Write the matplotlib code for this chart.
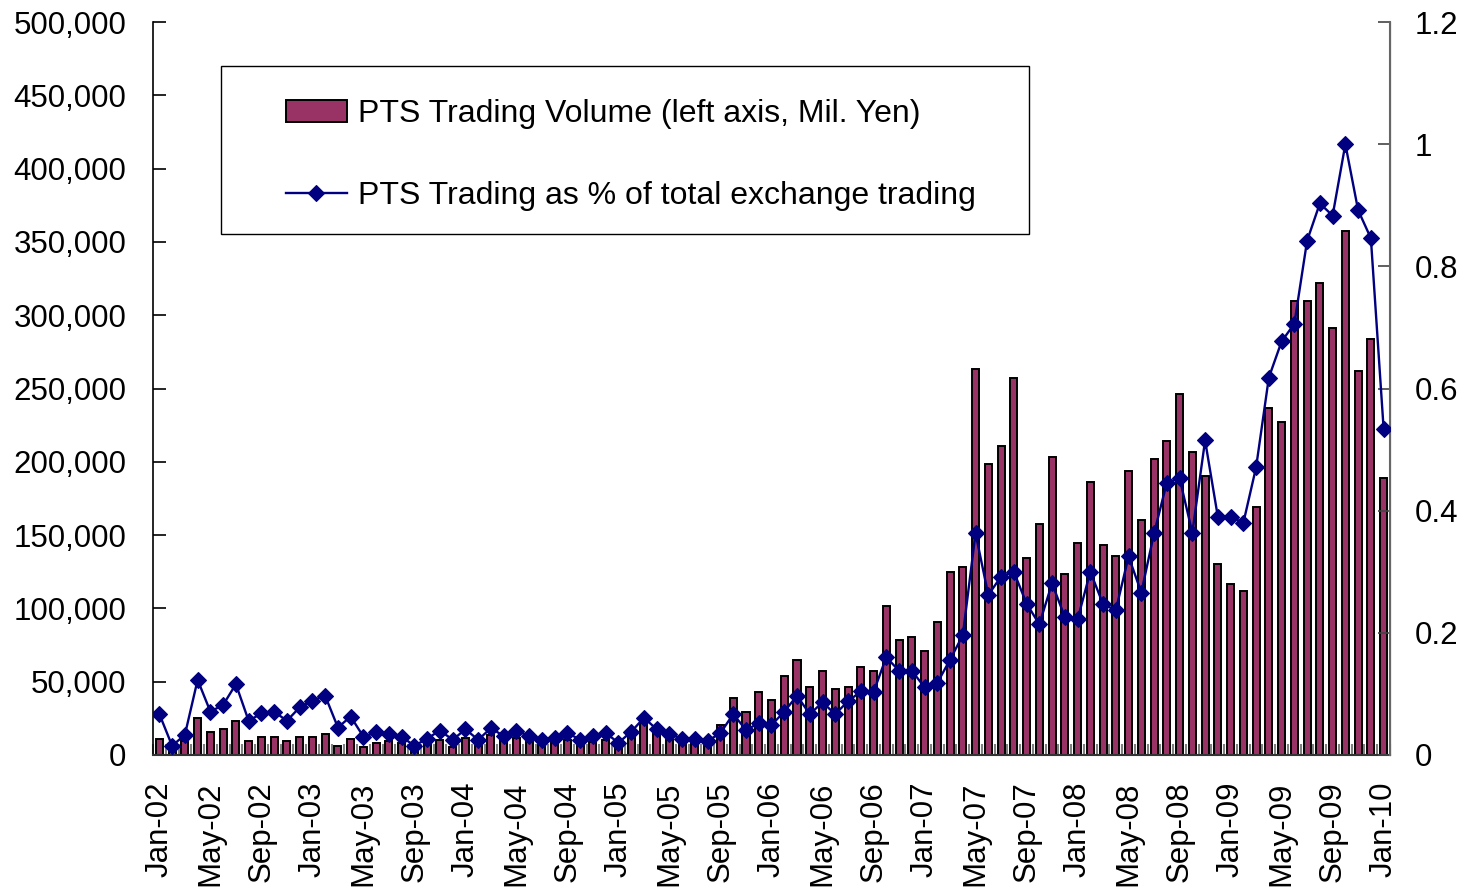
import numpy as np
import matplotlib
matplotlib.use("Agg")
import matplotlib.pyplot as plt
from matplotlib.patches import Rectangle
from matplotlib.ticker import FuncFormatter, FixedLocator

plt.rcParams['font.family'] = ['Liberation Sans', 'DejaVu Sans']

# ---- data ----
months = ["Jan", "Feb", "Mar", "Apr", "May", "Jun", "Jul", "Aug", "Sep", "Oct", "Nov", "Dec"]
categories = [f"{months[i % 12]}-{(2 + i // 12):02d}" for i in range(97)]

volume = [11000, 6000, 9800, 25000, 15900, 17500, 23000, 9800, 12500, 12500, 9800, 12500,
          12500, 14100, 6400, 11100, 5200, 8000, 9800, 8000, 5000, 8000, 10200, 5200,
          11400, 6000, 13600, 10200, 11800, 9100, 6800, 9100, 10200, 6800, 9100, 10200,
          4500, 12500, 21600, 14800, 10200, 8000, 8000, 6000, 20500, 39000, 29500, 43200,
          37500, 54100, 64800, 46600, 57300, 45000, 46600, 60200, 57300, 101800, 78400, 80300,
          71100, 90900, 125000, 128000, 263000, 198500, 210800, 257000, 134200, 157400, 203000, 123300,
          144800, 186000, 143200, 135700, 193900, 160300, 201900, 214200, 246000, 207000, 190200, 130500,
          116400, 112100, 168900, 236500, 226900, 309900, 309900, 322000, 291600, 357500, 262200, 283900,
          188700]

share = [0.067, 0.015, 0.033, 0.123, 0.071, 0.082, 0.116, 0.056, 0.068, 0.071, 0.056, 0.078,
         0.089, 0.097, 0.045, 0.063, 0.030, 0.037, 0.034, 0.030, 0.015, 0.027, 0.040, 0.025,
         0.042, 0.025, 0.044, 0.031, 0.040, 0.031, 0.025, 0.028, 0.036, 0.025, 0.031, 0.036,
         0.020, 0.038, 0.061, 0.042, 0.034, 0.027, 0.027, 0.023, 0.036, 0.067, 0.041, 0.052,
         0.049, 0.071, 0.097, 0.067, 0.086, 0.067, 0.088, 0.104, 0.103, 0.160, 0.138, 0.138,
         0.111, 0.118, 0.156, 0.196, 0.363, 0.262, 0.292, 0.300, 0.248, 0.214, 0.281, 0.226,
         0.222, 0.300, 0.247, 0.237, 0.325, 0.266, 0.363, 0.446, 0.453, 0.364, 0.515, 0.390,
         0.390, 0.380, 0.471, 0.618, 0.677, 0.706, 0.842, 0.903, 0.883, 1.000, 0.892, 0.846,
         0.534]

label_names = ["PTS Trading Volume (left axis, Mil. Yen)",
               "PTS Trading as % of total exchange trading"]

# ---- figure ----
fig = plt.figure(figsize=(14.71, 8.91), dpi=100)
ax = fig.add_axes([153 / 1471, 1 - 755 / 891, (1390 - 153) / 1471, (755 - 22) / 891])
ax2 = ax.twinx()

x = np.arange(len(categories))
FS = 22.5

bars = ax.bar(x, volume, width=0.55, color='#993366', edgecolor='black', linewidth=1.4,
              zorder=2, label=label_names[0])
line, = ax2.plot(x, share, color='#000080', linewidth=1.7, marker='D', markersize=8.2,
                 markerfacecolor='#000080', markeredgecolor='#000080', markeredgewidth=0.8,
                 label=label_names[1], zorder=3)

ax.set_xlim(-0.5, len(categories) - 0.5)
ax.set_ylim(0, 500000)
ax2.set_ylim(0, 1.2)

ax.set_yticks(np.arange(0, 500001, 50000))
ax.yaxis.set_major_formatter(FuncFormatter(lambda v, p: f"{int(v):,}"))
ax2.set_yticks(np.arange(0, 1.21, 0.2))
ax2.yaxis.set_major_formatter(FuncFormatter(lambda v, p: f"{v:g}"))

ax.set_xticks(x[::4])
ax.set_xticklabels([categories[i] for i in x[::4]], rotation=90, fontsize=FS)
ax.xaxis.set_minor_locator(FixedLocator(np.arange(-0.5, len(categories), 1)))
ax.tick_params(axis='x', which='major', length=0, pad=19)
ax.tick_params(axis='x', which='minor', direction='in', length=8, width=1.5, color='#808080')
ax.tick_params(axis='y', direction='in', length=9, width=1.2, labelsize=FS, pad=19)
ax2.tick_params(axis='y', direction='in', length=9, width=1.2, labelsize=FS, pad=18, color='#444444')

for a in (ax, ax2):
    a.spines['top'].set_visible(False)
ax.spines['left'].set_linewidth(1.2)
ax.spines['bottom'].set_linewidth(1.5)
ax.spines['bottom'].set_color('#333333')
ax2.spines['right'].set_linewidth(1.5)
ax2.spines['right'].set_color('#666666')
ax2.spines['left'].set_visible(False)
ax2.spines['bottom'].set_visible(False)

# legend frame
ax2.add_patch(Rectangle((221 / 1471, 1 - 234 / 891), 808 / 1471, 168 / 891,
                        transform=fig.transFigure, facecolor='white', clip_on=False,
                        edgecolor='black', linewidth=1.0, zorder=5))
leg = ax2.legend(handles=[bars, line], labels=label_names, loc='center left',
                 bbox_to_anchor=(286 / 1471, 1 - 155 / 891), bbox_transform=fig.transFigure,
                 frameon=False, fontsize=23, borderpad=0, handlelength=1.9,
                 handletextpad=0.35, labelspacing=1.62, borderaxespad=0)
leg.set_zorder(10)

fig.savefig("out.png", dpi=100)
